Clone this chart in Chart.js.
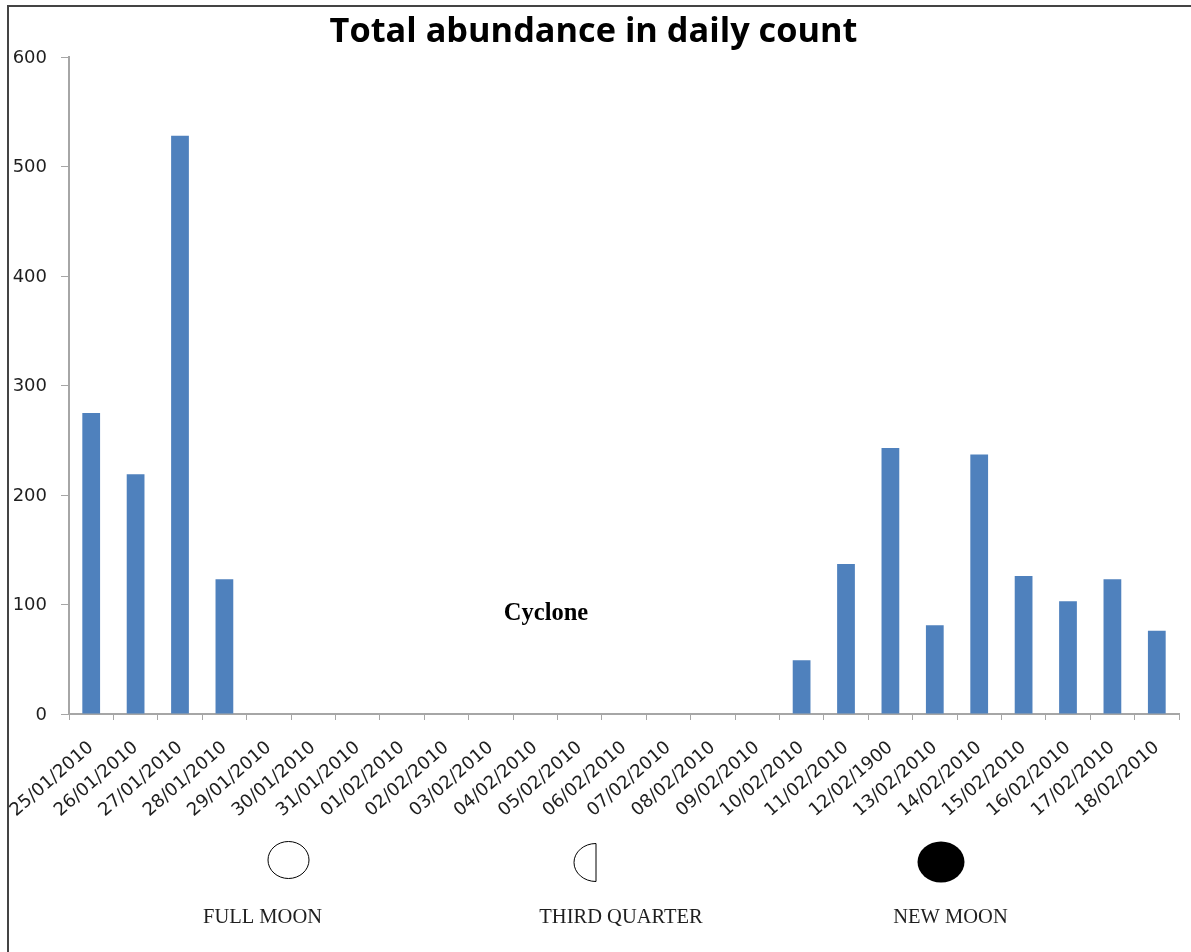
<!DOCTYPE html>
<html>
<head>
<meta charset="utf-8">
<title>Total abundance in daily count</title>
<script src="https://cdn.jsdelivr.net/npm/chart.js@4"></script>
<style>
  html, body { margin: 0; padding: 0; background: #fff; }
  canvas { display: block; }
</style>
</head>
<body>
<canvas id="abundance" width="1191" height="952"></canvas>
<script>
const dates = [
  "25/01/2010", "26/01/2010", "27/01/2010", "28/01/2010", "29/01/2010",
  "30/01/2010", "31/01/2010", "01/02/2010", "02/02/2010", "03/02/2010",
  "04/02/2010", "05/02/2010", "06/02/2010", "07/02/2010", "08/02/2010",
  "09/02/2010", "10/02/2010", "11/02/2010", "12/02/1900", "13/02/2010",
  "14/02/2010", "15/02/2010", "16/02/2010", "17/02/2010", "18/02/2010",
];
const counts = [275, 219, 528, 123, 0, 0, 0, 0, 0, 0, 0, 0, 0, 0, 0, 0, 49, 137, 243, 81, 237, 126, 103, 123, 76];
const yTicks = [0, 100, 200, 300, 400, 500, 600];
const moonLabels = ["FULL MOON", "THIRD QUARTER", "NEW MOON"];
const cycloneLabel = "Cyclone";

const AXIS_COLOR = "#a6a6a6";
const TEXT_COLOR = "#1f1f1f";

// frame, moon phase symbols and the free-floating captions
const annotations = {
  id: "annotations",
  beforeDraw(chart) {
    const { ctx } = chart;
    ctx.save();
    ctx.fillStyle = "#fff";
    ctx.fillRect(0, 0, chart.width, chart.height);
    ctx.strokeStyle = "#444";
    ctx.lineWidth = 2;
    ctx.beginPath();
    ctx.moveTo(8, 952);
    ctx.lineTo(8, 6);
    ctx.lineTo(1191, 6);
    ctx.stroke();
    ctx.restore();
  },
  afterDraw(chart) {
    const { ctx } = chart;
    ctx.save();
    ctx.strokeStyle = "#000";
    ctx.fillStyle = "#000";
    ctx.lineWidth = 1;

    ctx.beginPath();
    ctx.ellipse(288.5, 860, 20.5, 18.5, 0, 0, Math.PI * 2);
    ctx.stroke();

    ctx.beginPath();
    ctx.ellipse(596, 862.5, 22, 19, 0, Math.PI / 2, Math.PI * 1.5);
    ctx.closePath();
    ctx.stroke();

    ctx.beginPath();
    ctx.ellipse(941, 862, 23.5, 20.5, 0, 0, Math.PI * 2);
    ctx.fill();

    ctx.textAlign = "center";
    ctx.textBaseline = "middle";
    ctx.fillStyle = TEXT_COLOR;
    ctx.font = "20.5px 'Liberation Serif'";
    ctx.fillText(moonLabels[0], 262.5, 918);
    ctx.fillText(moonLabels[1], 621, 918);
    ctx.fillText(moonLabels[2], 950.5, 918);

    ctx.fillStyle = "#000";
    ctx.font = "bold 24.5px 'Liberation Serif'";
    ctx.fillText(cycloneLabel, 546, 614);
    ctx.restore();
  },
};

new Chart(document.getElementById("abundance"), {
  type: "bar",
  data: {
    labels: dates,
    datasets: [{
      data: counts,
      backgroundColor: "#4f81bd",
      barPercentage: 0.4,
      categoryPercentage: 1,
    }],
  },
  options: {
    responsive: false,
    animation: false,
    layout: { padding: { left: 8, right: 12, top: 0, bottom: 0 } },
    plugins: {
      legend: { display: false },
      tooltip: { enabled: false },
      title: {
        display: true,
        text: "Total abundance in daily count",
        color: "#000",
        font: { family: "'Open Sans'", size: 34.3, weight: "bold", lineHeight: 1 },
        padding: { top: 15, bottom: 7.7 },
      },
    },
    scales: {
      x: {
        // the rotated first label may hang past the y axis without pushing it right
        afterFit(scale) {
          scale.height = 238;
          scale.paddingLeft = 0;
        },
        grid: {
          offset: true,
          drawOnChartArea: false,
          color: AXIS_COLOR,
          tickLength: 6,
        },
        border: { color: AXIS_COLOR, width: 2 },
        ticks: {
          autoSkip: false,
          maxRotation: 41,
          minRotation: 41,
          color: TEXT_COLOR,
          padding: 17,
          labelOffset: 0,
          font: { family: "'DejaVu Sans'", size: 18 },
        },
      },
      y: {
        min: 0,
        max: 600,
        afterFit(scale) { scale.width = 61; },
        afterBuildTicks(scale) { scale.ticks = yTicks.map((value) => ({ value })); },
        grid: {
          drawOnChartArea: false,
          color: AXIS_COLOR,
          tickLength: 8,
        },
        border: { color: AXIS_COLOR, width: 2 },
        ticks: {
          color: TEXT_COLOR,
          padding: 14,
          labelOffset: 1,
          font: { family: "'DejaVu Sans'", size: 18 },
        },
      },
    },
  },
  plugins: [annotations],
});
</script>
</body>
</html>
